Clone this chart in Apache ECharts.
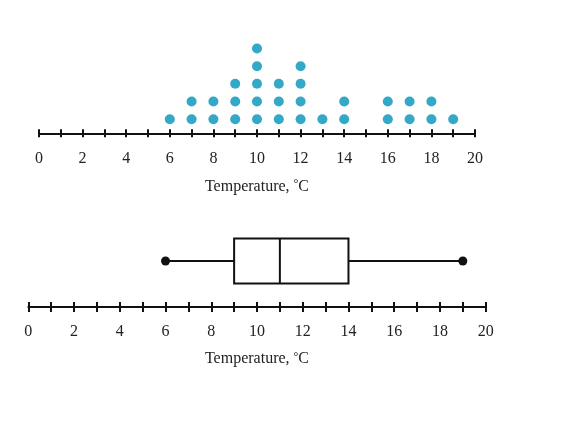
<!DOCTYPE html>
<html><head><meta charset="utf-8">
<script src="https://cdn.jsdelivr.net/npm/echarts@6/dist/echarts.min.js"></script>
<style>html,body{margin:0;padding:0;background:#fff}#c{width:568px;height:429px}</style>
</head><body><div id="c"></div>
<script>
const dotValues = [6, 7, 8, 9, 10, 11, 12, 13, 14, 16, 17, 18, 19];
const dotCounts = [1, 2, 2, 3, 5, 3, 4, 1, 2, 2, 2, 2, 1];
const boxStats = [6, 9, 11, 14, 19]; // min, Q1, median, Q3, max
const tickLabels = ['0', '2', '4', '6', '8', '10', '12', '14', '16', '18', '20'];
const axisTitle = 'Temperature, {sup|°}C';

const dots = [];
dotValues.forEach((v, i) => { for (let k = 1; k <= dotCounts[i]; k++) dots.push([v, k]); });

const FONT = '"Liberation Serif", "DejaVu Serif", serif';
const fmt = v => (tickLabels.indexOf(String(v)) >= 0 ? String(v) : '');

function mainX(gridIndex, tickLen, margin, gap) {
  return {
    type: 'value', gridIndex, min: 0, max: 20, interval: 1, position: 'bottom',
    axisLine: { show: true, lineStyle: { color: '#111', width: 2 } },
    axisTick: { show: true, inside: false, length: tickLen, lineStyle: { color: '#111', width: 2 } },
    axisLabel: { show: true, formatter: fmt, margin: margin, color: '#222', fontFamily: FONT, fontSize: 16 },
    splitLine: { show: false },
    name: axisTitle, nameLocation: 'middle', nameGap: gap,
    nameTextStyle: {
      color: '#222', fontFamily: FONT, fontSize: 16, verticalAlign: 'middle',
      rich: { sup: { fontFamily: FONT, fontSize: 12, color: '#222', verticalAlign: 'top', padding: [0, 0, 5, 0] } }
    }
  };
}
function dummyX(gridIndex, tickLen) {
  return {
    type: 'value', gridIndex, min: 0, max: 20, interval: 1, position: 'bottom',
    axisLine: { show: false },
    axisTick: { show: true, inside: true, length: tickLen, lineStyle: { color: '#111', width: 2 } },
    axisLabel: { show: false }, splitLine: { show: false }
  };
}
function hiddenY(gridIndex, min, max) {
  return { type: 'value', gridIndex, min, max, show: false, splitLine: { show: false } };
}

const option = {
  animation: false,
  backgroundColor: '#fff',
  grid: [
    { left: 39, width: 436, top: 27.3, height: 106 },
    { left: 39, width: 436, top: 27.3, height: 106 },
    { left: 28.3, width: 457.4, top: 215, height: 92 },
    { left: 28.3, width: 457.4, top: 215, height: 92 }
  ],
  xAxis: [mainX(0, 4, 17, 53), dummyX(1, 4), mainX(2, 5, 17, 52), dummyX(3, 5)],
  yAxis: [hiddenY(0, 0.2, 6.2), hiddenY(1, 0, 1), hiddenY(2, 0, 1), hiddenY(3, 0, 1)],
  series: [
    {
      type: 'scatter', xAxisIndex: 0, yAxisIndex: 0, data: dots,
      symbol: 'circle', symbolSize: 10, itemStyle: { color: '#33a8c7', opacity: 1 }
    },
    {
      type: 'custom', xAxisIndex: 2, yAxisIndex: 2,
      data: [boxStats],
      renderItem: function (params, api) {
        const mn = api.value(0), q1 = api.value(1), md = api.value(2), q3 = api.value(3), mx = api.value(4);
        const pMin = api.coord([mn, 0.5]), pQ1 = api.coord([q1, 0.5]), pMd = api.coord([md, 0.5]);
        const pQ3 = api.coord([q3, 0.5]), pMax = api.coord([mx, 0.5]);
        const top = api.coord([q1, 0.745])[1], bot = api.coord([q1, 0.255])[1];
        const cy = pMin[1];
        const st = { stroke: '#111', lineWidth: 2, fill: null };
        return {
          type: 'group',
          children: [
            { type: 'line', shape: { x1: pMin[0], y1: cy, x2: pQ1[0], y2: cy }, style: st },
            { type: 'line', shape: { x1: pQ3[0], y1: cy, x2: pMax[0], y2: cy }, style: st },
            { type: 'rect', shape: { x: pQ1[0], y: top, width: pQ3[0] - pQ1[0], height: bot - top }, style: st },
            { type: 'line', shape: { x1: pMd[0], y1: top, x2: pMd[0], y2: bot }, style: st },
            { type: 'circle', shape: { cx: pMin[0], cy: cy, r: 4.5 }, style: { fill: '#111' } },
            { type: 'circle', shape: { cx: pMax[0], cy: cy, r: 4.5 }, style: { fill: '#111' } }
          ]
        };
      }
    }
  ]
};
const chart = echarts.init(document.getElementById('c'), null, { renderer: 'canvas' });
chart.setOption(option);
</script></body></html>
